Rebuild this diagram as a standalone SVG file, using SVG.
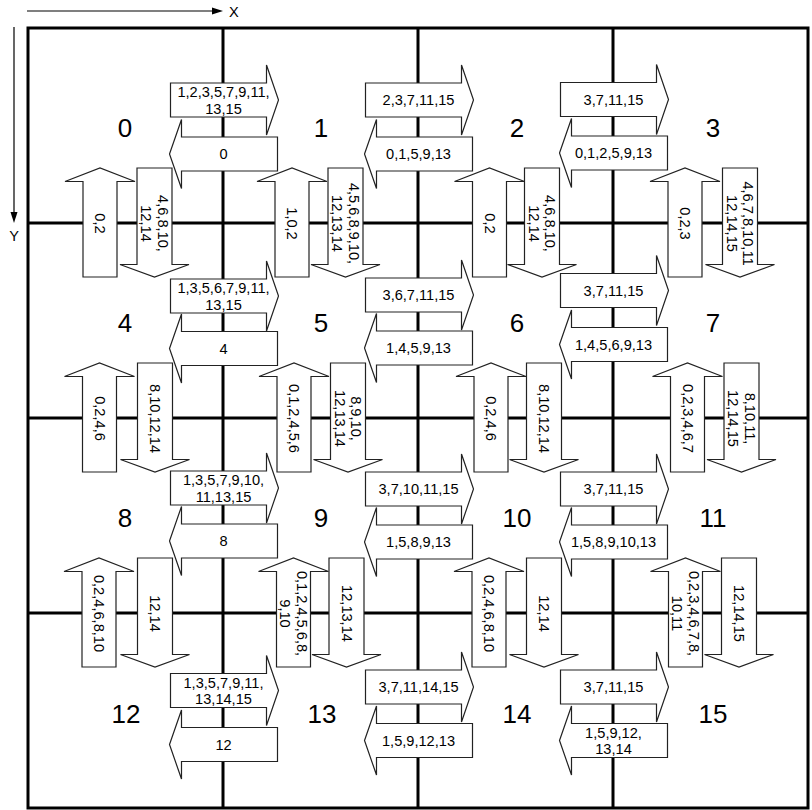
<svg xmlns="http://www.w3.org/2000/svg" xmlns:xlink="http://www.w3.org/1999/xlink" width="812" height="810" viewBox="0 0 812 810">
<style>
.grid{stroke:#000;stroke-width:3;fill:none}
.ax{stroke:#000;stroke-width:1.2;fill:none}
.arr{fill:#fff;stroke:#222;stroke-width:1.2;stroke-linejoin:miter}
.lbl{font-family:"Liberation Sans",Arial,Helvetica,sans-serif;font-size:14.6px;text-anchor:middle;fill:#000}
.num{font-family:"Liberation Sans",Arial,Helvetica,sans-serif;font-size:26px;text-anchor:middle;fill:#000}
</style>
<defs>
<path id="aR" d="M-53,-17H43V-35L55,0L43,35V17H-53Z"/>
<path id="aL" d="M54,-17H-42V-34.5L-54,0L-42,34.5V17H54Z"/>
<path id="aU" d="M-17,53.5V-42H-35L0,-55.5L35,-42H17V53.5Z"/>
<path id="aD" d="M-17.5,-55.5H17.5V41H34.5L0,53.5L-34.5,41H-17.5Z"/>
</defs>
<rect width="812" height="810" fill="#fff"/>
<g id="axes">
<line class="ax" x1="27" y1="11" x2="214" y2="11"/>
<polygon points="212,7.5 223,11 212,14.5" fill="#000"/>
<text class="lbl" x="229" y="16.5" style="text-anchor:start">X</text>
<line class="ax" x1="14" y1="27" x2="14" y2="214"/>
<polygon points="10.5,212 14,223 17.5,212" fill="#000"/>
<text class="lbl" x="14" y="241">Y</text>
</g>
<g id="grid">
<rect class="grid" x="28" y="28" width="780" height="780"/>
<line class="grid" x1="223" y1="28" x2="223" y2="808"/>
<line class="grid" x1="418" y1="28" x2="418" y2="808"/>
<line class="grid" x1="613" y1="28" x2="613" y2="808"/>
<line class="grid" x1="28" y1="223" x2="808" y2="223"/>
<line class="grid" x1="28" y1="418" x2="808" y2="418"/>
<line class="grid" x1="28" y1="613" x2="808" y2="613"/>
</g>
<g id="cells">
<g id="cell-0"><text class="num" x="125" y="137">0</text></g>
<g id="cell-1"><text class="num" x="321" y="137">1</text></g>
<g id="cell-2"><text class="num" x="517" y="137">2</text></g>
<g id="cell-3"><text class="num" x="713" y="137">3</text></g>
<g id="cell-4"><text class="num" x="125" y="332">4</text></g>
<g id="cell-5"><text class="num" x="321" y="332">5</text></g>
<g id="cell-6"><text class="num" x="517" y="332">6</text></g>
<g id="cell-7"><text class="num" x="713" y="332">7</text></g>
<g id="cell-8"><text class="num" x="125" y="527">8</text></g>
<g id="cell-9"><text class="num" x="321" y="527">9</text></g>
<g id="cell-10"><text class="num" x="517" y="527">10</text></g>
<g id="cell-11"><text class="num" x="713" y="527">11</text></g>
<g id="cell-12"><text class="num" x="126" y="723">12</text></g>
<g id="cell-13"><text class="num" x="322" y="723">13</text></g>
<g id="cell-14"><text class="num" x="517" y="723">14</text></g>
<g id="cell-15"><text class="num" x="713" y="723">15</text></g>
</g>
<g id="connectors">
<!-- row 0 horizontal -->
<g id="c0-1" transform="translate(223.5,100)"><use href="#aR" class="arr"/><text class="lbl"><tspan x="0" y="-3">1,2,3,5,7,9,11,</tspan><tspan x="0" y="13.5">13,15</tspan></text></g>
<g id="c1-0" transform="translate(223.5,154)"><use href="#aL" class="arr"/><text class="lbl" y="5">0</text></g>
<g id="c1-2" transform="translate(418.5,100)"><use href="#aR" class="arr"/><text class="lbl" y="5">2,3,7,11,15</text></g>
<g id="c2-1" transform="translate(418.5,154)"><use href="#aL" class="arr"/><text class="lbl" y="5">0,1,5,9,13</text></g>
<g id="c2-3" transform="translate(613.5,99.5)"><use href="#aR" class="arr"/><text class="lbl" y="5">3,7,11,15</text></g>
<g id="c3-2" transform="translate(613.5,153)"><use href="#aL" class="arr"/><text class="lbl" y="5">0,1,2,5,9,13</text></g>
<!-- row 1 horizontal -->
<g id="c4-5" transform="translate(223.5,296)"><use href="#aR" class="arr"/><text class="lbl"><tspan x="0" y="-3">1,3,5,6,7,9,11,</tspan><tspan x="0" y="13.5">13,15</tspan></text></g>
<g id="c5-4" transform="translate(223.5,348.5)"><use href="#aL" class="arr"/><text class="lbl" y="5">4</text></g>
<g id="c5-6" transform="translate(418.5,295)"><use href="#aR" class="arr"/><text class="lbl" y="5">3,6,7,11,15</text></g>
<g id="c6-5" transform="translate(418.5,348)"><use href="#aL" class="arr"/><text class="lbl" y="5">1,4,5,9,13</text></g>
<g id="c6-7" transform="translate(613.5,290.5)"><use href="#aR" class="arr"/><text class="lbl" y="5">3,7,11,15</text></g>
<g id="c7-6" transform="translate(613.5,344.5)"><use href="#aL" class="arr"/><text class="lbl" y="5">1,4,5,6,9,13</text></g>
<!-- row 2 horizontal -->
<g id="c8-9" transform="translate(223.5,488)"><use href="#aR" class="arr"/><text class="lbl"><tspan x="0" y="-3">1,3,5,7,9,10,</tspan><tspan x="0" y="13.5">11,13,15</tspan></text></g>
<g id="c9-8" transform="translate(223.5,541)"><use href="#aL" class="arr"/><text class="lbl" y="5">8</text></g>
<g id="c9-10" transform="translate(418.5,489)"><use href="#aR" class="arr"/><text class="lbl" y="5">3,7,10,11,15</text></g>
<g id="c10-9" transform="translate(418.5,542)"><use href="#aL" class="arr"/><text class="lbl" y="5">1,5,8,9,13</text></g>
<g id="c10-11" transform="translate(613.5,489)"><use href="#aR" class="arr"/><text class="lbl" y="5">3,7,11,15</text></g>
<g id="c11-10" transform="translate(613.5,542)"><use href="#aL" class="arr"/><text class="lbl" y="5">1,5,8,9,10,13</text></g>
<!-- row 3 horizontal -->
<g id="c12-13" transform="translate(223.5,690.5)"><use href="#aR" class="arr"/><text class="lbl"><tspan x="0" y="-3">1,3,5,7,9,11,</tspan><tspan x="0" y="13.5">13,14,15</tspan></text></g>
<g id="c13-12" transform="translate(223.5,744.5)"><use href="#aL" class="arr"/><text class="lbl" y="5">12</text></g>
<g id="c13-14" transform="translate(418.5,687)"><use href="#aR" class="arr"/><text class="lbl" y="5">3,7,11,14,15</text></g>
<g id="c14-13" transform="translate(418.5,740.5)"><use href="#aL" class="arr"/><text class="lbl" y="5">1,5,9,12,13</text></g>
<g id="c14-15" transform="translate(613.5,687)"><use href="#aR" class="arr"/><text class="lbl" y="5">3,7,11,15</text></g>
<g id="c15-14" transform="translate(613.5,740.5)"><use href="#aL" class="arr"/><text class="lbl"><tspan x="0" y="-3">1,5,9,12,</tspan><tspan x="0" y="13.5">13,14</tspan></text></g>
<!-- vertical boundary y=223 -->
<g id="c4-0" transform="translate(100,223.5)"><use href="#aU" class="arr"/><text class="lbl" transform="rotate(90)" y="5">0,2</text></g>
<g id="c0-4" transform="translate(154.5,223.5)"><use href="#aD" class="arr"/><text class="lbl" transform="rotate(90)"><tspan x="0" y="-3">4,6,8,10,</tspan><tspan x="0" y="13.5">12,14</tspan></text></g>
<g id="c5-1" transform="translate(292,223.5)"><use href="#aU" class="arr"/><text class="lbl" transform="rotate(90)" y="5">1,0,2</text></g>
<g id="c1-5" transform="translate(345.5,223.5)"><use href="#aD" class="arr"/><text class="lbl" transform="rotate(90)"><tspan x="0" y="-3">4,5,6,8,9,10,</tspan><tspan x="0" y="13.5">12,13,14</tspan></text></g>
<g id="c6-2" transform="translate(489.5,223.5)"><use href="#aU" class="arr"/><text class="lbl" transform="rotate(90)" y="5">0,2</text></g>
<g id="c2-6" transform="translate(542,223.5)"><use href="#aD" class="arr"/><text class="lbl" transform="rotate(90)"><tspan x="0" y="-3">4,6,8,10,</tspan><tspan x="0" y="13.5">12,14</tspan></text></g>
<g id="c7-3" transform="translate(685,223.5)"><use href="#aU" class="arr"/><text class="lbl" transform="rotate(90)" y="5">0,2,3</text></g>
<g id="c3-7" transform="translate(740,223.5)"><use href="#aD" class="arr"/><text class="lbl" transform="rotate(90)"><tspan x="0" y="-3">4,6,7,8,10,11</tspan><tspan x="0" y="13.5">12,14,15</tspan></text></g>
<!-- vertical boundary y=418 -->
<g id="c8-4" transform="translate(99.5,418.5)"><use href="#aU" class="arr"/><text class="lbl" transform="rotate(90)" y="5">0,2,4,6</text></g>
<g id="c4-8" transform="translate(155,418.5)"><use href="#aD" class="arr"/><text class="lbl" transform="rotate(90)" y="5">8,10,12,14</text></g>
<g id="c9-5" transform="translate(294,418.5)"><use href="#aU" class="arr"/><text class="lbl" transform="rotate(90)" y="5">0,1,2,4,5,6</text></g>
<g id="c5-9" transform="translate(348,418.5)"><use href="#aD" class="arr"/><text class="lbl" transform="rotate(90)"><tspan x="0" y="-3">8,9,10,</tspan><tspan x="0" y="13.5">12,13,14</tspan></text></g>
<g id="c10-6" transform="translate(491,418.5)"><use href="#aU" class="arr"/><text class="lbl" transform="rotate(90)" y="5">0,2,4,6</text></g>
<g id="c6-10" transform="translate(544,418.5)"><use href="#aD" class="arr"/><text class="lbl" transform="rotate(90)" y="5">8,10,12,14</text></g>
<g id="c11-7" transform="translate(687.5,418.5)"><use href="#aU" class="arr"/><text class="lbl" transform="rotate(90)" y="5">0,2,3,4,6,7</text></g>
<g id="c7-11" transform="translate(741.5,418.5)"><use href="#aD" class="arr"/><text class="lbl" transform="rotate(90)"><tspan x="0" y="-3">8,10,11,</tspan><tspan x="0" y="13.5">12,14,15</tspan></text></g>
<!-- vertical boundary y=613 -->
<g id="c12-8" transform="translate(99,613.5)"><use href="#aU" class="arr"/><text class="lbl" transform="rotate(90)" y="5">0,2,4,6,8,10</text></g>
<g id="c8-12" transform="translate(155,613.5)"><use href="#aD" class="arr"/><text class="lbl" transform="rotate(90)" y="5">12,14</text></g>
<g id="c13-9" transform="translate(293.5,613.5)"><use href="#aU" class="arr"/><text class="lbl" transform="rotate(90)"><tspan x="0" y="-3">0,1,2,4,5,6,8,</tspan><tspan x="0" y="13.5">9,10</tspan></text></g>
<g id="c9-13" transform="translate(346.5,613.5)"><use href="#aD" class="arr"/><text class="lbl" transform="rotate(90)" y="5">12,13,14</text></g>
<g id="c14-10" transform="translate(489,613.5)"><use href="#aU" class="arr"/><text class="lbl" transform="rotate(90)" y="5">0,2,4,6,8,10</text></g>
<g id="c10-14" transform="translate(544,613.5)"><use href="#aD" class="arr"/><text class="lbl" transform="rotate(90)" y="5">12,14</text></g>
<g id="c15-11" transform="translate(685.5,613.5)"><use href="#aU" class="arr"/><text class="lbl" transform="rotate(90)"><tspan x="0" y="-3">0,2,3,4,6,7,8,</tspan><tspan x="0" y="13.5">10,11</tspan></text></g>
<g id="c11-15" transform="translate(739,613.5)"><use href="#aD" class="arr"/><text class="lbl" transform="rotate(90)" y="5">12,14,15</text></g>
</g>
</svg>
